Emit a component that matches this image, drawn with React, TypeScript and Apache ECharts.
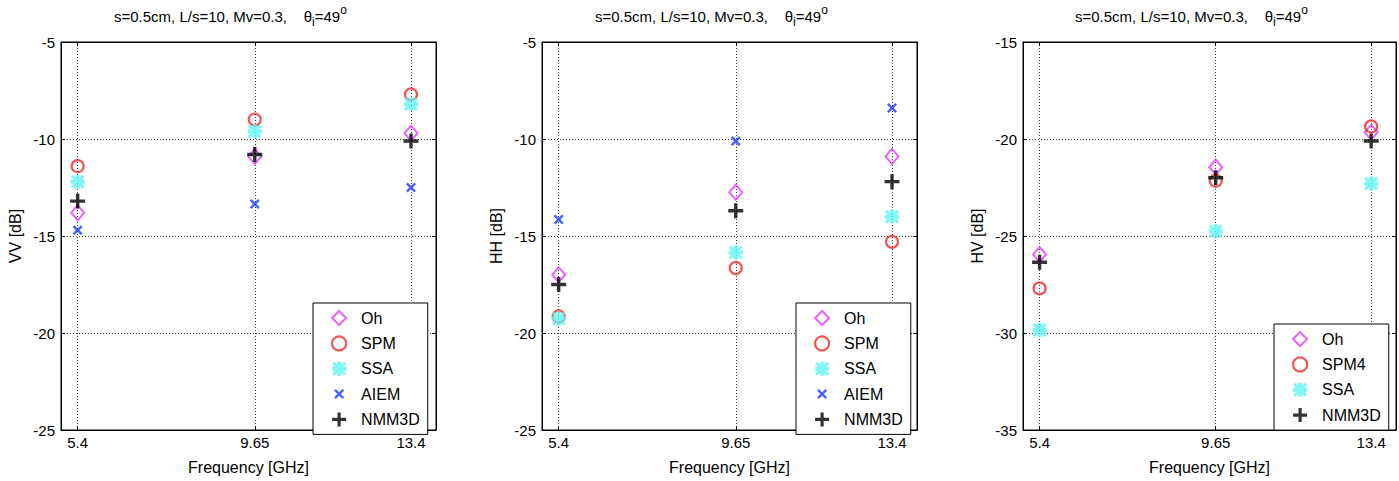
import React, { useEffect, useRef } from 'react';
import * as echarts from 'echarts';

// ---- data ----
const freqs = [5.4, 9.65, 13.4];
const freqTicks = [5.4, 9.65, 13.4];

const vvOh = [-13.8, -10.9, -9.7];
const vvSPM = [-11.4, -9.0, -7.7];
const vvSSA = [-12.2, -9.6, -8.2];
const vvAIEM = [-14.7, -13.35, -12.5];
const vvNMM3D = [-13.2, -10.8, -10.1];

const hhOh = [-17.0, -12.75, -10.9];
const hhSPM = [-19.15, -16.65, -15.3];
const hhSSA = [-19.25, -15.85, -14.0];
const hhAIEM = [-14.15, -10.1, -8.4];
const hhNMM3D = [-17.5, -13.7, -12.2];

const hvOh = [-25.95, -21.45, -19.65];
const hvSPM4 = [-27.7, -22.15, -19.35];
const hvSSA = [-29.85, -24.75, -22.3];
const hvNMM3D = [-26.35, -22.0, -20.1];

const vvRange = [-25, -5];
const hhRange = [-25, -5];
const hvRange = [-35, -15];
const xRange = [5, 14];

const titleText = 's=0.5cm, L/s=10, Mv=0.3,    θ{sub|i}=49{sup|o}';
const xName = 'Frequency [GHz]';

// ---- styles ----
const FONT = '"Liberation Sans", Arial, Helvetica, sans-serif';
const C = {
  oh: '#e03cff',
  spm: '#ee2a2a',
  ssa: '#5ff5f5',
  aiem: '#1a3cff',
  nmm: '#000000',
};
const PLUS = 'path://M7.75,0 L12.25,0 L12.25,7.75 L20,7.75 L20,12.25 L12.25,12.25 L12.25,20 L7.75,20 L7.75,12.25 L0,12.25 L0,7.75 L7.75,7.75 Z';
const CROSS = 'path://M0,3.5 L3.5,0 L10,6.5 L16.5,0 L20,3.5 L13.5,10 L20,16.5 L16.5,20 L10,13.5 L3.5,20 L0,16.5 L6.5,10 Z';
const CROSS_LEGEND = 'path://M-4,-4 M24,24 M0,3.5 L3.5,0 L10,6.5 L16.5,0 L20,3.5 L13.5,10 L20,16.5 L16.5,20 L10,13.5 L3.5,20 L0,16.5 L6.5,10 Z';
const STAR =
  'path://M7,0 L13,0 L13,7 L20,7 L20,13 L13,13 L13,20 L7,20 L7,13 L0,13 L0,7 L7,7 Z ' +
  'M0,3 L3,0 L10,7 L17,0 L20,3 L13,10 L20,17 L17,20 L10,13 L3,20 L0,17 L7,10 Z';

type Spec = { name: string; key: keyof typeof C; values: number[] };

const panels: { yName: string; range: number[]; left: number; width: number; legendLeft: number; legendTop: number; titleLeft: number; specs: Spec[] }[] = [
  {
    yName: 'VV [dB]', range: vvRange, left: 61, width: 375, legendLeft: 313, legendTop: 303, titleLeft: 114,
    specs: [
      { name: 'Oh', key: 'oh', values: vvOh },
      { name: 'SPM', key: 'spm', values: vvSPM },
      { name: 'SSA', key: 'ssa', values: vvSSA },
      { name: 'AIEM', key: 'aiem', values: vvAIEM },
      { name: 'NMM3D', key: 'nmm', values: vvNMM3D },
    ],
  },
  {
    yName: 'HH [dB]', range: hhRange, left: 542, width: 375, legendLeft: 796, legendTop: 303, titleLeft: 595,
    specs: [
      { name: 'Oh', key: 'oh', values: hhOh },
      { name: 'SPM', key: 'spm', values: hhSPM },
      { name: 'SSA', key: 'ssa', values: hhSSA },
      { name: 'AIEM', key: 'aiem', values: hhAIEM },
      { name: 'NMM3D', key: 'nmm', values: hhNMM3D },
    ],
  },
  {
    yName: 'HV [dB]', range: hvRange, left: 1023, width: 373, legendLeft: 1274, legendTop: 324, titleLeft: 1075,
    specs: [
      { name: 'Oh', key: 'oh', values: hvOh },
      { name: 'SPM4', key: 'spm', values: hvSPM4 },
      { name: 'SSA', key: 'ssa', values: hvSSA },
      { name: 'NMM3D', key: 'nmm', values: hvNMM3D },
    ],
  },
];

function symbolFor(key: keyof typeof C) {
  switch (key) {
    case 'oh':
      return { symbol: 'diamond', symbolSize: [13, 15], itemStyle: { color: 'transparent', borderColor: C.oh, borderWidth: 2 } };
    case 'spm':
      return { symbol: 'circle', symbolSize: 12, itemStyle: { color: 'transparent', borderColor: C.spm, borderWidth: 2.2 } };
    case 'ssa':
      return { symbol: STAR, symbolSize: 14, itemStyle: { color: C.ssa } };
    case 'aiem':
      return { symbol: CROSS, symbolSize: 10, itemStyle: { color: C.aiem } };
    default:
      return { symbol: PLUS, symbolSize: 15, itemStyle: { color: C.nmm } };
  }
}

function buildOption() {
  const grid: any[] = [];
  const xAxis: any[] = [];
  const yAxis: any[] = [];
  const series: any[] = [];
  const legend: any[] = [];
  const title: any[] = [];
  const gridLine = { show: true, lineStyle: { type: [1, 2], color: '#3a3a3a', width: 1 } };
  const axisLine = { show: true, onZero: false, lineStyle: { color: '#000', width: 1 } };
  const tickStyle = { color: '#000', width: 1 };
  const labelStyle = { fontSize: 15, color: '#000', fontFamily: FONT };
  const nameStyle = { fontSize: 16, color: '#000', fontFamily: FONT };

  panels.forEach((p, i) => {
    grid.push({ left: p.left, top: 42, width: p.width, height: 388, show: true, borderColor: '#000', borderWidth: 1, backgroundColor: '#fff' });
    xAxis.push({
      type: 'value', gridIndex: i, position: 'bottom', min: xRange[0], max: xRange[1],
      axisLine,
      axisTick: { show: true, inside: true, length: 4, customValues: freqTicks, lineStyle: tickStyle },
      axisLabel: { show: true, customValues: freqTicks, margin: 5, ...labelStyle, formatter: (v: number) => String(v) },
      splitLine: gridLine,
      name: xName, nameLocation: 'middle', nameGap: 29,
      nameTextStyle: { ...nameStyle },
    });
    xAxis.push({
      type: 'value', gridIndex: i, position: 'top', min: xRange[0], max: xRange[1],
      axisLine,
      axisTick: { show: true, inside: true, length: 4, customValues: freqTicks, lineStyle: tickStyle },
      axisLabel: { show: false },
      splitLine: { show: false },
    });
    yAxis.push({
      type: 'value', gridIndex: i, position: 'left', min: p.range[0], max: p.range[1], interval: 5,
      axisLine,
      axisTick: { show: true, inside: true, length: 4, lineStyle: tickStyle },
      axisLabel: { show: true, margin: 6, ...labelStyle },
      splitLine: gridLine,
      name: p.yName, nameLocation: 'middle', nameGap: 38,
      nameTextStyle: { ...nameStyle },
    });
    yAxis.push({
      type: 'value', gridIndex: i, position: 'right', min: p.range[0], max: p.range[1], interval: 5,
      axisLine,
      axisTick: { show: true, inside: true, length: 4, lineStyle: tickStyle },
      axisLabel: { show: false },
      splitLine: { show: false },
    });
    p.specs.forEach((s) => {
      const sym = symbolFor(s.key);
      series.push({
        type: 'scatter', name: s.name, xAxisIndex: 2 * i, yAxisIndex: 2 * i,
        data: freqs.map((f, k) => [f, s.values[k]]),
        symbol: sym.symbol, symbolSize: sym.symbolSize, itemStyle: sym.itemStyle,
        emphasis: { disabled: true },
      });
    });
    legend.push({
      left: p.legendLeft, top: p.legendTop, orient: 'vertical',
      itemWidth: 14, itemHeight: 14, itemGap: 9.3,
      padding: [7, 8, 7, 18],
      borderColor: '#000', borderWidth: 1, backgroundColor: '#fff',
      selectedMode: false,
      textStyle: { ...nameStyle, padding: [0, 0, 0, 10] },
      data: p.specs.map((s) => {
        const sym = symbolFor(s.key);
        return { name: s.name, icon: s.key === 'aiem' ? CROSS_LEGEND : sym.symbol, itemStyle: sym.itemStyle };
      }),
    });
    title.push({
      text: titleText, left: p.titleLeft, top: 4, padding: 0,
      textStyle: {
        fontSize: 15, fontWeight: 'normal', color: '#000', fontFamily: FONT, lineHeight: 24,
        rich: {
          sub: { fontSize: 12, lineHeight: 12, verticalAlign: 'bottom', fontFamily: FONT, color: '#000' },
          sup: { fontSize: 12, lineHeight: 12, verticalAlign: 'top', fontFamily: FONT, color: '#000' },
        },
      },
    });
  });

  return { animation: false, backgroundColor: '#fff', title, grid, xAxis, yAxis, legend, series };
}

export default function App() {
  const ref = useRef<HTMLDivElement>(null);
  useEffect(() => {
    if (!ref.current) return;
    const chart = echarts.init(ref.current, undefined, { renderer: 'svg' });
    chart.setOption(buildOption() as any);
    return () => chart.dispose();
  }, []);
  return <div ref={ref} style={{ position: 'fixed', left: 0, top: 0, width: 1399, height: 481, background: '#fff' }} />;
}
